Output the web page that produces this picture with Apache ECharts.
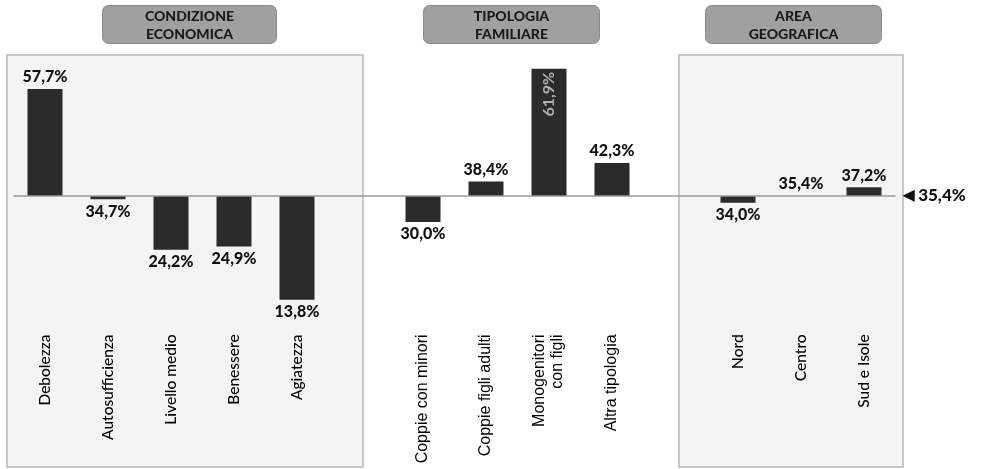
<!DOCTYPE html>
<html>
<head>
<meta charset="utf-8">
<script src="https://cdn.jsdelivr.net/npm/echarts@6/dist/echarts.min.js"></script>
<style>html,body{margin:0;padding:0;background:#fff}#c{width:982px;height:469px}</style>
</head>
<body>
<div id="c"></div>
<script>
// ---- data ----
const baseline = 35.4;
const groupTitles = ['CONDIZIONE\nECONOMICA', 'TIPOLOGIA\nFAMILIARE', 'AREA\nGEOGRAFICA'];
const catEconomica = ['Debolezza', 'Autosufficienza', 'Livello medio', 'Benessere', 'Agiatezza'];
const valEconomica = [57.7, 34.7, 24.2, 24.9, 13.8];
const catFamiliare = ['Coppie con minori', 'Coppie figli adulti', 'Monogenitori\ncon figli', 'Altra tipologia'];
const valFamiliare = [30.0, 38.4, 61.9, 42.3];
const catGeografica = ['Nord', 'Centro', 'Sud e Isole'];
const valGeografica = [34.0, 35.4, 37.2];

// ---- build category slots (with an empty gap between groups) ----
const fmt = v => v.toFixed(1).replace('.', ',') + '%';
const cats = [], items = [];
function addGroup(names, vals) {
  names.forEach((n, i) => {
    cats.push(n);
    const dev = +(vals[i] - baseline).toFixed(1);
    items.push({ value: dev, raw: vals[i], label: { position: dev < 0 ? 'bottom' : 'top' } });
  });
}
addGroup(catEconomica, valEconomica);
cats.push(' '); items.push('-');
addGroup(catFamiliare, valFamiliare);
cats.push('  '); items.push('-');
addGroup(catGeografica, valGeografica);

// inside rotated label for the tallest bar of the family group
const mono = items.find(d => d && d.raw === 61.9);
mono.label = { position: 'insideTop', rotate: 90, align: 'right', verticalAlign: 'middle', distance: 3,
  color: '#b0b0b0', fontSize: 16, fontWeight: 'bold' };

const famSet = new Set(catFamiliare);
const chart = echarts.init(document.getElementById('c'));

function header(x, w, text) {
  return {
    type: 'group', left: x, top: 5, z: 10,
    children: [
      { type: 'rect', shape: { x: 0, y: 0, width: w, height: 38, r: 6 },
        style: { fill: '#a0a0a0', stroke: '#8a8a8a', lineWidth: 1 } },
      { type: 'text', x: w / 2, y: 20,
        style: { text: text, fill: '#1a1a1a', font: '900 14px Lato', align: 'center', verticalAlign: 'middle', lineHeight: 18 } }
    ]
  };
}
function panel(x, w) {
  return { type: 'rect', z: -10, shape: { x: x, y: 55, width: w, height: 412 },
    style: { fill: '#f4f4f4', stroke: '#b8b8b8', lineWidth: 1.5 } };
}

chart.setOption({
  animation: false,
  backgroundColor: '#ffffff',
  grid: { left: 13.5, right: 86.5, top: 52, bottom: 138.6 },
  xAxis: {
    type: 'category',
    data: cats,
    axisLine: { show: false }, axisTick: { show: false },
    axisLabel: {
      interval: 0, rotate: 90, margin: 4,
      formatter: v => {
        if (!v.trim()) return '';
        const st = famSet.has(v) ? 'm' : 'a';
        return v.split('\n').map(s => '{' + st + '|' + s + '}').join('\n');
      },
      rich: {
        a: { fontFamily: 'Lato', fontSize: 15.5, fontWeight: 500, color: '#000', lineHeight: 18 },
        m: { fontFamily: 'Liberation Sans', fontSize: 16, color: '#000', lineHeight: 18 }
      }
    }
  },
  yAxis: { type: 'value', min: -28, max: 30, show: false, splitLine: { show: false } },
  graphic: [
    panel(7, 356), panel(679, 224),
    header(102, 174, groupTitles[0]),
    header(423, 176, groupTitles[1]),
    header(705, 176, groupTitles[2])
  ],
  series: [{
    type: 'bar',
    data: items,
    barWidth: 35,
    itemStyle: { color: '#2b2b2b' },
    label: {
      show: true, distance: 4,
      fontFamily: 'Lato', fontWeight: 900, fontSize: 16, color: '#111',
      formatter: p => fmt(p.data.raw)
    },
    markLine: {
      silent: true, symbol: ['none', 'none'],
      lineStyle: { color: '#9a9a9a', width: 1.5, type: 'solid' },
      label: {
        show: true, position: 'end', distance: 7,
        formatter: () => '{t|◀} {v|' + fmt(baseline) + '}',
        rich: {
          t: { fontSize: 16, color: '#111', fontFamily: 'DejaVu Sans' },
          v: { fontSize: 17, fontWeight: 900, color: '#111', fontFamily: 'Lato' }
        }
      },
      data: [{ yAxis: 0 }]
    }
  }]
});
</script>
</body>
</html>
